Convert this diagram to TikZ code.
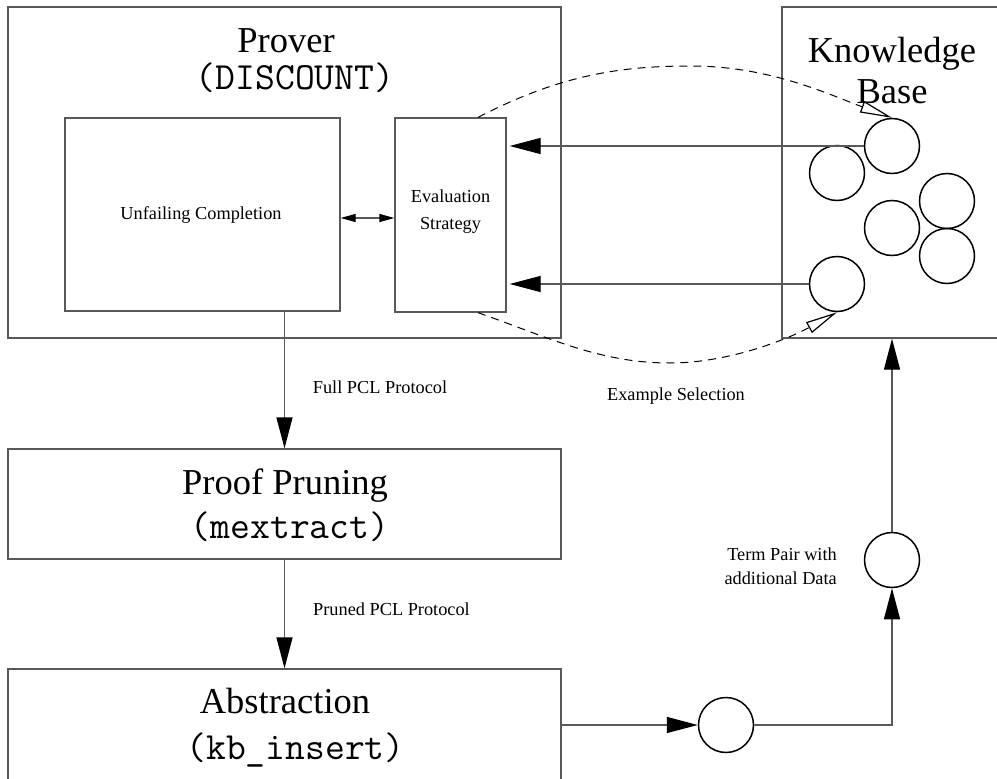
\documentclass[tikz,border=0pt]{standalone}
\usepackage{fontspec}
\setmainfont{Liberation Serif}
\usetikzlibrary{arrows.meta}
\begin{document}
\begin{tikzpicture}[x=1pt,y=-1pt,
  box/.style={draw=black!65, line width=1.3pt, inner sep=0pt, rectangle},
  big/.style={font=\fontsize{36.5}{40}\selectfont, inner sep=0pt},
  mono/.style={font=\fontsize{38.5}{42}\selectfont\ttfamily, inner sep=0pt},
  small/.style={font=\fontsize{18.3}{24}\selectfont, inner sep=0pt},
  circ/.style={circle, draw=black, line width=1.5pt, minimum size=55pt, inner sep=0pt},
  arr/.style={-{Triangle[length=31pt,width=16pt,color=black]}, line width=1.3pt, draw=black!65},
  dbl/.style={{Triangle[length=15pt,width=8pt,color=black]}-{Triangle[length=15pt,width=8pt,color=black]}, line width=1.3pt, draw=black!65},
  dsh/.style={-{Triangle[open,length=32pt,width=12pt,fill=white,line width=1.2pt,color=black]}, line width=1pt, draw=black, dash pattern=on 8pt off 6pt}
]
\clip (0,0) rectangle (997,779);
\fill[white] (0,0) rectangle (997,779);

% boxes
\node[box, minimum width=553pt, minimum height=331pt] (prover) at (284.5,172.5) {};
\node[box, minimum width=275pt, minimum height=193pt] (unfail) at (202.5,214.5) {};
\node[box, minimum width=111pt, minimum height=194pt] (eval) at (450.5,215) {};
\node[box, minimum width=228pt, minimum height=331pt] (kb) at (896,172.5) {};
\node[box, minimum width=553pt, minimum height=110pt] (pp) at (284.5,504) {};
\node[box, minimum width=553pt, minimum height=131pt] (abs) at (284.5,734.5) {};

% texts
\node[big, anchor=base] (tprover) at (286,52) {Prover};
\node[mono, anchor=base] (tdisc) at (295,89) {(DISCOUNT)};
\node[small, anchor=base] (tunf) at (201,219) {Unfailing Completion};
\node[small, anchor=base] (teval1) at (450.5,202) {Evaluation};
\node[small, anchor=base] (teval2) at (450.5,229) {Strategy};
\node[big, anchor=base] (tkb1) at (892,62) {Knowledge};
\node[big, anchor=base] (tkb2) at (892,103) {Base};
\node[big, anchor=base] (tpp) at (285,494) {Proof Pruning};
\node[mono, anchor=base] (tmex) at (290,538) {(mextract)};
\node[big, anchor=base] (tabs) at (285,713) {Abstraction};
\node[mono, anchor=base] (tkbi) at (295.5,759) {(kb\_insert)};
\node[small, anchor=base] (tfull) at (380,393) {Full PCL Protocol};
\node[small, anchor=base] (tpruned) at (391.5,615) {Pruned PCL Protocol};
\node[small, anchor=base] (texs) at (676,400) {Example Selection};
\node[small, anchor=base east] (tterm1) at (837,560) {Term Pair with};
\node[small, anchor=base east] (tterm2) at (837,584) {additional Data};

% circles
\node[circ] (k1) at (892,146) {};
\node[circ] (k2) at (837,173) {};
\node[circ] (k3) at (947,201) {};
\node[circ] (k4) at (892,228) {};
\node[circ] (k5) at (947,256) {};
\node[circ] (k6) at (837,284) {};
\node[circ] (c1) at (726,725) {};
\node[circ] (term) at (892,560) {};

% connectors
\draw[arr, shorten >=3pt] (k1.west) -- (k1.west -| eval.east);
\draw[arr, shorten >=3pt] (k6.west) -- (k6.west -| eval.east);
\draw[dbl] ([yshift=-3.5pt]unfail.east) -- ([yshift=-3.5pt]unfail.east -| eval.west);
\draw[arr] (unfail.south -| pp.north) -- (pp.north);
\draw[arr] (pp.south) -- (abs.north);
\draw[arr] (abs.east |- c1.west) -- (c1.west);
\draw[arr] (c1.east) -| (term.south);
\draw[arr] (term.north) -- (term.north |- kb.south);

\coordinate (e1) at ([xshift=27.5pt]eval.north);
\coordinate (e2) at ([xshift=27.5pt]eval.south);
\draw[dsh] (e1) .. controls (560,75) and (620,66) .. (691,66) .. controls (770,66) and (830,95) .. (k1.north);
\draw[dsh] (e2) .. controls (550,338) and (600,363) .. (670,363) .. controls (730,363) and (790,338) .. (k6.south);
\end{tikzpicture}
\end{document}
